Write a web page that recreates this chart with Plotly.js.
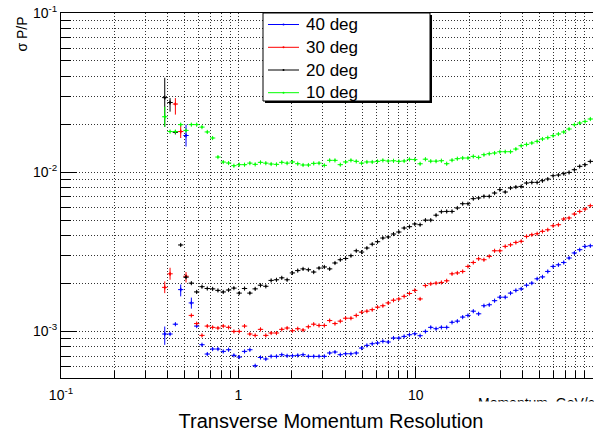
<!DOCTYPE html>
<html>
<head>
<meta charset="utf-8">
<script src="https://cdn.plot.ly/plotly-3.0.1.min.js"></script>
<style>
  html, body { margin: 0; padding: 0; background: #fff; }
  #plot { width: 594px; height: 432px; }
</style>
</head>
<body>
<div id="plot"></div>
<script>
// Bin centres of the momentum histogram (GeV/c), log-spaced bins
const momentum = [0.3846,0.4121,0.4416,0.4732,0.5070,0.5433,0.5821,0.6237,0.6683,0.7161,0.7674,0.8222,0.8810,0.9441,
  1.0116,1.0839,1.1614,1.2445,1.3335,1.4289,1.5311,1.6406,1.7579,1.8836,2.0184,2.1627,2.3174,2.4831,2.6607,2.8510,3.0549,3.2734,3.5075,3.7584,
  4.0272,4.3152,4.6238,4.9545,5.3088,5.6885,6.0954,6.5313,6.9984,7.4989,8.0353,8.6099,9.2257,9.8855,
  10.593,11.350,12.162,13.032,13.964,14.962,16.032,17.179,18.408,19.724,21.135,22.646,24.266,26.002,27.861,29.854,31.989,34.277,36.728,39.355,
  42.170,45.186,48.417,51.880,55.590,59.566,63.826,68.391,73.282,78.524,84.140,90.157,96.605];

// sigma(P)/P for each polar angle
const res40 = [0.000963,0.000963,0.00111,0.00183,0.0170,0.00151,0.00108,0.000825,0.000721,0.000775,0.000775,0.000749,0.000767,0.000707,
  0.000690,0.000749,0.000767,0.000609,0.000686,0.000671,0.000697,0.000697,0.000714,0.000703,0.000703,0.000707,0.000714,0.000697,0.000697,0.000697,0.000697,0.000732,0.000742,0.000714,
  0.000724,0.000724,0.000732,0.000786,0.000817,0.000837,0.000846,0.000866,0.000858,0.000909,0.000909,0.000930,0.000953,0.000967,
  0.000940,0.00100,0.00106,0.00104,0.00106,0.00106,0.00114,0.00116,0.00123,0.00126,0.00134,0.00129,0.00145,0.00147,0.00156,0.00164,0.00164,0.00174,0.00181,0.00185,
  0.00195,0.00201,0.00214,0.00220,0.00238,0.00256,0.00262,0.00271,0.00289,0.00311,0.00326,0.00342,0.00345];

const res30 = [0.00189,0.00230,0.0268,0.0180,0.00222,0.00126,0.00112,0.000944,0.00108,0.00106,0.00105,0.00108,0.00106,0.00100,
  0.00100,0.00108,0.000963,0.000944,0.00103,0.000944,0.000977,0.000977,0.00103,0.00105,0.00101,0.00104,0.00102,0.00107,0.00111,0.00109,0.00109,0.00117,0.00112,0.00116,
  0.00121,0.00121,0.00126,0.00132,0.00134,0.00137,0.00142,0.00145,0.00151,0.00157,0.00160,0.00166,0.00173,0.00181,
  0.00160,0.00194,0.00199,0.00201,0.00203,0.00208,0.00230,0.00233,0.00238,0.00256,0.00271,0.00286,0.00282,0.00296,0.00321,0.00321,0.00342,0.00350,0.00362,0.00368,
  0.00395,0.00405,0.00411,0.00425,0.00435,0.00461,0.00468,0.00508,0.00516,0.00546,0.00567,0.00587,0.00616];

const res20 = [0.0294,0.0274,0.0178,0.00349,0.00219,0.00201,0.00177,0.00191,0.00186,0.00185,0.00181,0.00177,0.00182,0.00187,
  0.00174,0.00186,0.00174,0.00185,0.00195,0.00192,0.00209,0.00211,0.00217,0.00211,0.00233,0.00241,0.00247,0.00244,0.00236,0.00250,0.00254,0.00247,0.00269,0.00282,
  0.00287,0.00299,0.00321,0.00315,0.00334,0.00353,0.00366,0.00386,0.00392,0.00409,0.00421,0.00446,0.00455,0.00473,
  0.00468,0.00500,0.00500,0.00537,0.00565,0.00567,0.00567,0.00596,0.00634,0.00634,0.00682,0.00689,0.00705,0.00705,0.00740,0.00777,0.00751,0.00796,0.00807,0.00814,
  0.00855,0.00863,0.00863,0.00884,0.00906,0.00951,0.00960,0.00979,0.00997,0.01037,0.01088,0.01115,0.01169];

const res10 = [0.0223,0.0180,0.0180,0.0199,0.0183,0.0199,0.0199,0.0192,0.0179,0.0164,0.01245,0.01158,0.01142,0.01099,
  0.01115,0.01115,0.0114,0.0112,0.01153,0.0114,0.01126,0.0112,0.01153,0.0114,0.0116,0.01131,0.0111,0.0111,0.01136,0.0114,0.01104,0.01187,0.01187,0.01115,
  0.0116,0.01187,0.0117,0.0114,0.0116,0.0116,0.0117,0.01187,0.01176,0.0118,0.0117,0.01176,0.01204,0.0120,
  0.0113,0.01207,0.01173,0.01173,0.01181,0.01131,0.0119,0.01216,0.01228,0.01228,0.01257,0.01239,0.01288,0.01307,0.0132,0.01345,0.01345,0.01345,0.01398,0.01467,
  0.01495,0.01526,0.01562,0.01617,0.01648,0.01696,0.01738,0.01789,0.01868,0.01988,0.02037,0.02085,0.02159];

// Low-statistics bins with large uncertainties: bin index, upper and lower error
const wide40 = { idx: [0, 3, 4, 5], plus: [0.00011, 0.00014, 0.0029, 0.00012], minus: [0.00014, 0.00017, 0.0025, 0.00012] };
const wide30 = { idx: [0, 1, 2, 3, 4], plus: [0.00017, 0.00021, 0.0024, 0.0019, 0.00014], minus: [0.00015, 0.00019, 0.0038, 0.0016, 0.00019] };
const wide20 = { idx: [0, 1], plus: [0.0098, 0.0018], minus: [0.0101, 0.0034] };
const wide10 = { idx: [0], plus: [0.0035], minus: [0.0030] };

const seriesNames = ['40 deg', '30 deg', '20 deg', '10 deg'];
const seriesColors = ['#0000ff', '#ff0000', '#000000', '#00ff00'];

const xMajor = [0.1, 1, 10, 100];
const xMajorText = ['10<sup>-1</sup>', '1', '10', '10<sup>2</sup>'];
const xMinor = [0.2,0.3,0.4,0.5,0.6,0.7,0.8,0.9, 2,3,4,5,6,7,8,9, 20,30,40,50,60,70,80,90];
const yMajor = [0.001, 0.01, 0.1];
const yMajorText = ['10<sup>-3</sup>', '10<sup>-2</sup>', '10<sup>-1</sup>'];
const yMinor = [0.0006,0.0007,0.0008,0.0009, 0.002,0.003,0.004,0.005,0.006,0.007,0.008,0.009, 0.02,0.03,0.04,0.05,0.06,0.07,0.08,0.09];

const FONT = 'Liberation Sans, Arial, Helvetica, sans-serif';
const series = [res40, res30, res20, res10];
const wide = [wide40, wide30, wide20, wide10];

// Half bin width as a percentage of the bin centre (log bins of 0.03 decades)
const binPlusPct = 3.514, binMinusPct = 3.395;

// Plot-area geometry in pixels, used to place the legend box in paper units
const W = 594, H = 432, ML = 61, MR = 1, MT = 13, MB = 54;
const PW = W - ML - MR, PH = H - MT - MB;
const px = v => (v - ML) / PW;
const py = v => (H - MB - v) / PH;

const traces = [];
series.forEach((vals, k) => {
  const c = seriesColors[k];
  traces.push({
    type: 'scatter', mode: 'markers', x: momentum, y: vals, name: seriesNames[k], showlegend: false,
    marker: { color: c, size: 2 },
    error_x: { type: 'percent', symmetric: false, value: binPlusPct, valueminus: binMinusPct, color: c, thickness: 1, width: 0 },
    error_y: { type: 'percent', value: 3, color: c, thickness: 1, width: 0 },
    hoverinfo: 'skip'
  });
  const w = wide[k];
  traces.push({
    type: 'scatter', mode: 'markers',
    x: w.idx.map(i => momentum[i]), y: w.idx.map(i => vals[i]), showlegend: false,
    marker: { color: c, size: 2 },
    error_y: { type: 'data', symmetric: false, array: w.plus, arrayminus: w.minus, color: c, thickness: 1, width: 0 },
    hoverinfo: 'skip'
  });
});

// Legend: framed box with drop shadow, a line sample with a dot and a label per series
const legendRows = [24.5, 47.3, 70, 92.7];
const shapes = [
  { type: 'rect', xref: 'paper', yref: 'paper', x0: px(265), x1: px(432), y0: py(103), y1: py(15),
    fillcolor: '#000', line: { width: 0 }, layer: 'above' },
  { type: 'rect', xref: 'paper', yref: 'paper', x0: px(263), x1: px(430), y0: py(101), y1: py(13),
    fillcolor: '#fff', line: { color: '#000', width: 1 }, layer: 'above' }
];
const annotations = [];
seriesNames.forEach((name, k) => {
  const yr = legendRows[k];
  shapes.push({ type: 'line', xref: 'paper', yref: 'paper', x0: px(268), x1: px(299), y0: py(yr), y1: py(yr),
    line: { color: seriesColors[k], width: 1 }, layer: 'above' });
  shapes.push({ type: 'circle', xref: 'paper', yref: 'paper', x0: px(282.5), x1: px(284.5), y0: py(yr + 1), y1: py(yr - 1),
    fillcolor: seriesColors[k], line: { color: seriesColors[k], width: 0 }, layer: 'above' });
  annotations.push({ text: name, xref: 'paper', yref: 'paper', x: px(304), y: py(yr),
    xanchor: 'left', yanchor: 'middle', showarrow: false,
    font: { family: FONT, size: 17, color: '#000' } });
});

annotations.push(
  { text: 'σ P/P', xref: 'paper', yref: 'paper', x: px(22), y: py(15),
    xanchor: 'center', yanchor: 'top', textangle: -90, showarrow: false,
    font: { family: FONT, size: 14, color: '#000' } },
  { text: 'Momentum  GeV/c', xref: 'paper', yref: 'paper', x: px(597), y: py(393),
    xanchor: 'right', yanchor: 'top', showarrow: false,
    font: { family: FONT, size: 14, color: '#000' } },
  { text: 'Transverse Momentum Resolution', xref: 'paper', yref: 'paper', x: px(331), y: py(420.5),
    xanchor: 'center', yanchor: 'middle', showarrow: false, width: 540, height: 35,
    bgcolor: '#ffffff', borderpad: 1, valign: 'middle',
    font: { family: FONT, size: 20, color: '#000' } }
);

const gridDash = '1px,2px';
const gridColor = '#333333';

const layout = {
  width: W, height: H,
  margin: { l: ML, r: MR, t: MT, b: MB, pad: 0 },
  paper_bgcolor: '#ffffff', plot_bgcolor: '#ffffff',
  font: { family: FONT, color: '#000000' },
  showlegend: false,
  hovermode: false,
  xaxis: {
    type: 'log', range: [-1, 2], fixedrange: true,
    tickmode: 'array', tickvals: xMajor, ticktext: xMajorText,
    ticks: 'inside', ticklen: 12, tickwidth: 1, tickcolor: '#000',
    ticklabelstandoff: 4,
    tickfont: { family: FONT, size: 14, color: '#000' },
    showline: true, linecolor: '#000', linewidth: 1, mirror: true,
    showgrid: true, gridcolor: gridColor, griddash: gridDash, gridwidth: 1,
    zeroline: false,
    minor: { tickmode: 'array', tickvals: xMinor, ticks: 'inside', ticklen: 7, tickwidth: 1, tickcolor: '#000',
             showgrid: true, gridcolor: gridColor, griddash: gridDash, gridwidth: 1 }
  },
  yaxis: {
    type: 'log', range: [-3.2927, -1], fixedrange: true,
    tickmode: 'array', tickvals: yMajor, ticktext: yMajorText,
    ticks: 'inside', ticklen: 16, tickwidth: 1, tickcolor: '#000',
    tickfont: { family: FONT, size: 14, color: '#000' },
    showline: true, linecolor: '#000', linewidth: 1, mirror: false,
    showgrid: true, gridcolor: gridColor, griddash: gridDash, gridwidth: 1,
    zeroline: false,
    minor: { tickmode: 'array', tickvals: yMinor, ticks: 'inside', ticklen: 10, tickwidth: 1, tickcolor: '#000',
             showgrid: true, gridcolor: gridColor, griddash: gridDash, gridwidth: 1 }
  },
  shapes: shapes,
  annotations: annotations
};

Plotly.newPlot('plot', traces, layout, { staticPlot: true, displayModeBar: false });
</script>
</body>
</html>
